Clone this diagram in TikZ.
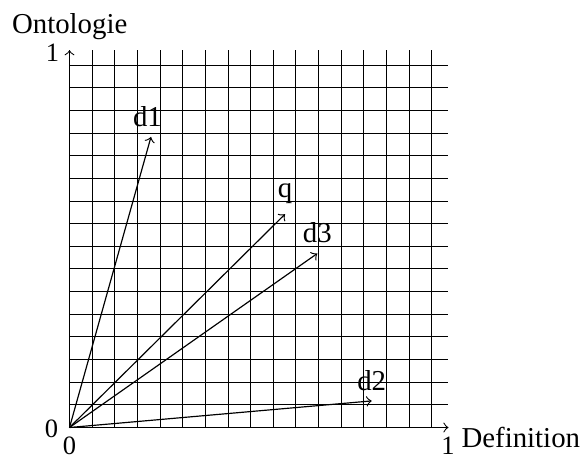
\documentclass[tikz,border=0pt]{standalone}
\usepackage{fontspec}
\setmainfont{Liberation Serif}
\begin{document}
\begin{tikzpicture}[x=0.34pt,y=0.34pt,
  font=\fontsize{9.8}{12}\selectfont,
  gridline/.style={line width=0.36pt},
  axis/.style={->, line width=0.36pt},
  vec/.style={->, line width=0.4pt},
  lbl/.style={inner sep=0pt},
  num/.style={inner sep=0pt, font=\fontsize{9}{10}\selectfont}]
\useasboundingbox (-69.5,-29.5) rectangle (512.5,427.5);
% grid
\foreach \k in {0,...,16} {
  \pgfmathsetmacro\p{round(\k*22.65)}
  \draw[gridline] (\p,0) -- (\p,377);
  \draw[gridline] (0,\p) -- (378.5,\p);
}
% axes
\coordinate (O) at (0,0);
\coordinate (X) at (379,0);
\coordinate (Y) at (0,377.3);
\draw[axis] (O) -- (X);
\draw[axis] (O) -- (Y);
% axis labels
\node[num] (x0) at (0,-18) {0};
\node[num] (x1) at (378.5,-18) {1};
\node[num] (y0) at (-18,-1.5) {0};
\node[num] (y1) at (-17,374.5) {1};
\node[lbl, anchor=base west] (ont) at (-58,394) {Ontologie};
\node[lbl, anchor=base west] (def) at (391.5,-19.5) {Definition};
% vectors
\coordinate (d1) at (81.5,290.6);
\coordinate (d2) at (302.2,26.6);
\coordinate (q) at (215.5,213.3);
\coordinate (d3) at (247.8,174);
\draw[vec] (O) -- (d1);
\draw[vec] (O) -- (d2);
\draw[vec] (O) -- (q);
\draw[vec] (O) -- (d3);
\node[above, xshift=-1.2pt] (d1l) at (d1) {d1};
\node[above] (d2l) at (d2) {d2};
\node[above] (ql) at (q) {q};
\node[above] (d3l) at (d3) {d3};
\end{tikzpicture}
\end{document}
